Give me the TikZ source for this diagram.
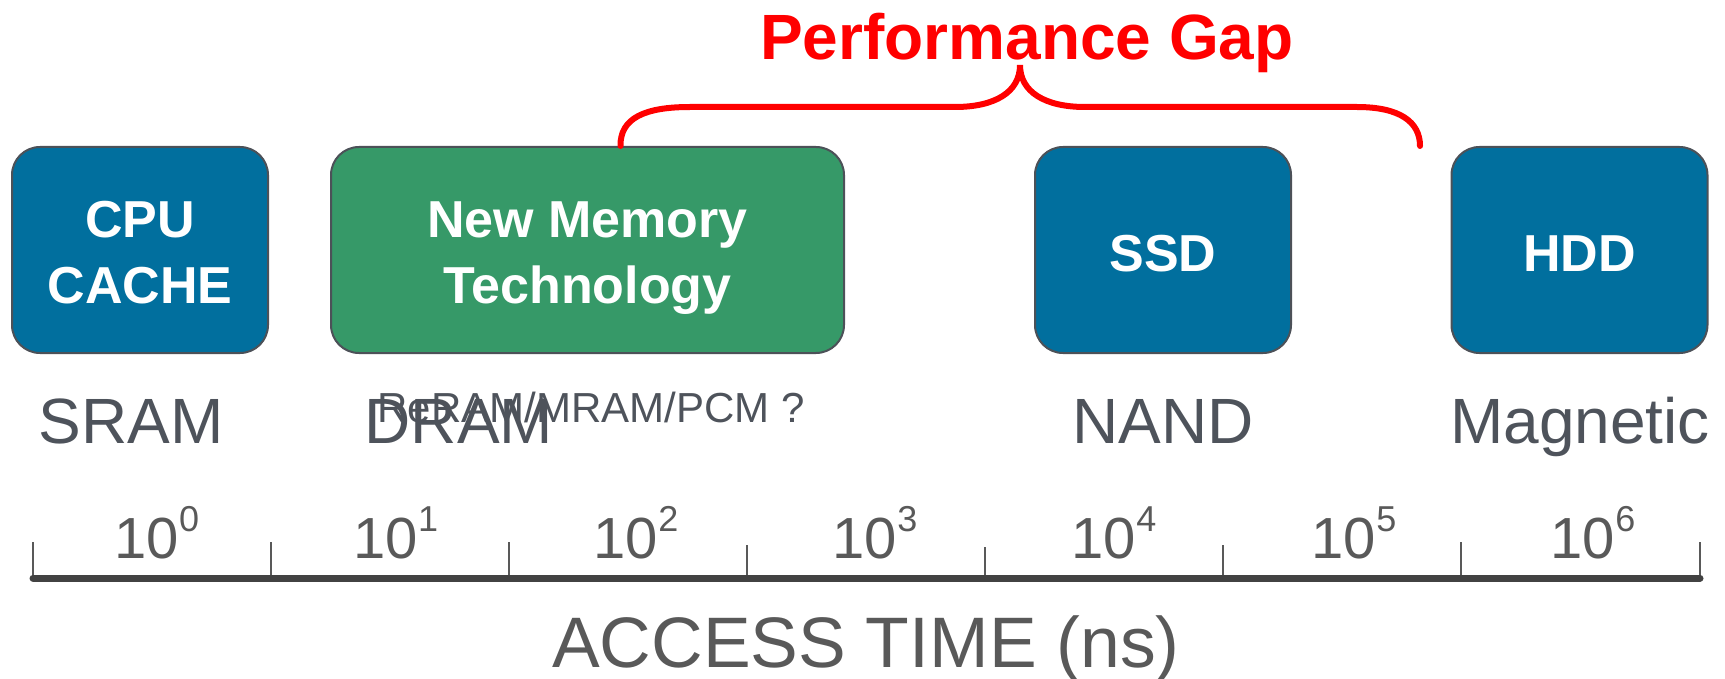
\documentclass[tikz,border=0pt]{standalone}
\usepackage{fontspec}
\setmainfont{Liberation Sans}
\usetikzlibrary{positioning}
\definecolor{boxblue}{RGB}{1,111,158}
\definecolor{boxgreen}{RGB}{54,153,104}
\definecolor{boxline}{RGB}{76,81,88}
\definecolor{techgray}{RGB}{78,83,91}
\definecolor{axisgray}{RGB}{89,89,89}
\definecolor{axisdark}{RGB}{66,66,66}
\tikzset{
    memory box/.style={draw=boxline,line width=2pt,rounded corners=28pt,minimum height=206pt,
        minimum width=256pt,align=center,text=white,text height=106pt,text depth=0pt,
        font=\fontsize{52}{66}\selectfont\bfseries},
    tech label/.style={text=techgray,font=\fontsize{64}{70}\selectfont,anchor=base,inner sep=0pt},
    decade/.style={text=axisgray,font=\fontsize{58}{60}\selectfont,anchor=base,inner sep=0pt},
    axis tick/.style={draw=axisgray,line width=1.5pt},
    gap brace/.style={draw=red,line width=6pt,line cap=round}
}
\newcommand{\decadelabel}[1]{10\raisebox{27pt}{\fontsize{36}{36}\selectfont #1}}

\begin{document}
\begin{tikzpicture}[x=1pt,y=-1pt]
    \useasboundingbox (0,0) rectangle (1725,679);

    % memory boxes
    \node[memory box,fill=boxblue] (cache) at (140,250) {CPU\\CACHE};
    \node[memory box,fill=boxgreen,minimum width=513pt] (newmem) at (587.5,250) {New Memory\\Technology};
    \node[memory box,fill=boxblue,text height=44pt] (ssd) at (1163,250) {SSD};
    \node[memory box,fill=boxblue,text height=44pt] (hdd) at (1579.5,250) {HDD};

    % technologies
    \node[tech label] (sram) at (131,443) {SRAM};
    \node[tech label] (dram) at (459,443) {DRAM};
    \node[tech label,font=\fontsize{42}{46}\selectfont] (reram) at (591,422) {ReRAM/MRAM/PCM ?};
    \node[tech label] (nand) at (1163,443) {NAND};
    \node[tech label] (magnetic) at (1580,443) {Magnetic};

    % performance gap
    \node[text=red,font=\fontsize{64}{66}\selectfont\bfseries,anchor=base,inner sep=0pt] (gap) at (1027,60) {Performance Gap};
    \coordinate (gapL) at ([xshift=33pt]newmem.north);
    \coordinate (gapTip) at (1020,65);
    \coordinate (gapR) at (1420,146);
    \draw[gap brace] (gapL) .. controls (620,118) and (645,107) .. (690,107) -- (955,107)
        .. controls (995,107) and (1020,92) .. (gapTip)
        .. controls (1020,92) and (1045,107) .. (1085,107) -- (1357,107)
        .. controls (1400,107) and (1420,122) .. (gapR);

    % access time axis
    \coordinate (axL) at (33,578);
    \coordinate (axR) at (1700,578);
    \draw[axis tick] (axL) -- ++(0,-36);
    \draw[axis tick] (271,578) -- ++(0,-36);
    \draw[axis tick] (509,578) -- ++(0,-36);
    \draw[axis tick] (747,578) -- ++(0,-33);
    \draw[axis tick] (985,578) -- ++(0,-31);
    \draw[axis tick] (1223,578) -- ++(0,-33);
    \draw[axis tick] (1461,578) -- ++(0,-36);
    \draw[axis tick] (axR) -- ++(0,-36);
    \draw[draw=axisdark,line width=7pt,line cap=round] (axL) -- (axR);

    \node[decade] (d0) at (157,558) {\decadelabel{0}};
    \node[decade] (d1) at (396,558) {\decadelabel{1}};
    \node[decade] (d2) at (636,558) {\decadelabel{2}};
    \node[decade] (d3) at (875,558) {\decadelabel{3}};
    \node[decade] (d4) at (1114,558) {\decadelabel{4}};
    \node[decade] (d5) at (1354,558) {\decadelabel{5}};
    \node[decade] (d6) at (1593,558) {\decadelabel{6}};

    \node[text=axisgray,font=\fontsize{71.5}{74}\selectfont,anchor=base,inner sep=0pt] (access) at (866,667) {ACCESS TIME (ns)};
\end{tikzpicture}
\end{document}
